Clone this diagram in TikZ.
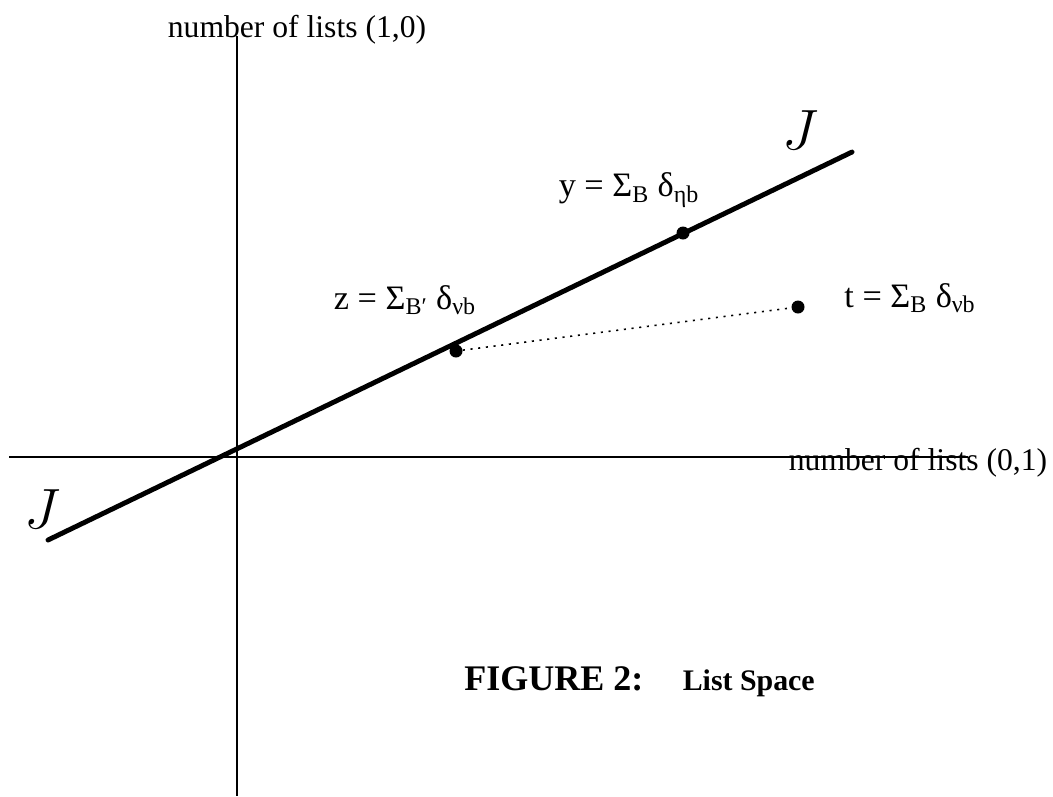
\documentclass[tikz,border=0pt]{standalone}
\usepackage{graphicx}
\usepackage{fontspec}
\setmainfont{Liberation Serif}
\usetikzlibrary{positioning}

\newcommand{\bigJ}{\scalebox{1.3}{$J$}}

\begin{document}
\begin{tikzpicture}[x=0.02cm, y=-0.02cm,
    lbl/.style={font=\fontsize{18}{20}\selectfont, inner sep=0pt},
    frm/.style={font=\fontsize{19.5}{22}\selectfont, inner sep=0pt},
    pt/.style={circle, fill, inner sep=0pt, minimum size=7.4pt},
    jlbl/.style={font=\fontsize{24}{28}\selectfont, inner sep=0pt}]
  \useasboundingbox (0,0) rectangle (1053,796);
  % Axes
  \coordinate (xl) at (9,457);
  \coordinate (xr) at (968,457);
  \coordinate (yt) at (237,36);
  \coordinate (yb) at (237,796);
  \draw[line width=1.1pt] (xl) -- (xr);
  \draw[line width=1.1pt] (yt) -- (yb);
  % Axis labels
  \node[lbl] (ylab) at (297,30) {number of lists (1,0)};
  \node[lbl] (xlab) at (918,463) {number of lists (0,1)};
  % Line J
  \coordinate (ja) at (48,540);
  \coordinate (jb) at (852,152);
  \draw[line width=2.8pt, line cap=round] (ja) -- (jb);
  \node[jlbl] (jlow) at (43,509) {\bigJ};
  \node[jlbl] (jhigh) at (800,130) {\bigJ};
  % Points
  \node[pt] (ydot) at (683,233) {};
  \node[pt] (zdot) at (456,351) {};
  \node[pt] (tdot) at (798,307) {};
  \draw[line width=0.9pt, dash pattern=on 1.2pt off 3.2pt] (zdot) -- (tdot);
  % Point labels
  \node[frm] (ylbl) at (629,190) {y = Σ\textsubscript{B} δ\textsubscript{ηb}};
  \node[frm] (zlbl) at (405,300) {z = Σ\textsubscript{B′} δ\textsubscript{νb}};
  \node[frm] (tlbl) at (910,298) {t = Σ\textsubscript{B} δ\textsubscript{νb}};
  % Caption
  \node[font=\bfseries\fontsize{20.5}{22}\selectfont, inner sep=0pt, anchor=base west] (fig) at (464,690) {FIGURE 2:};
  \node[font=\bfseries\fontsize{17}{20}\selectfont, inner sep=0pt, right=22pt of fig.base east, anchor=base west] (title) {List Space};
\end{tikzpicture}
\end{document}
